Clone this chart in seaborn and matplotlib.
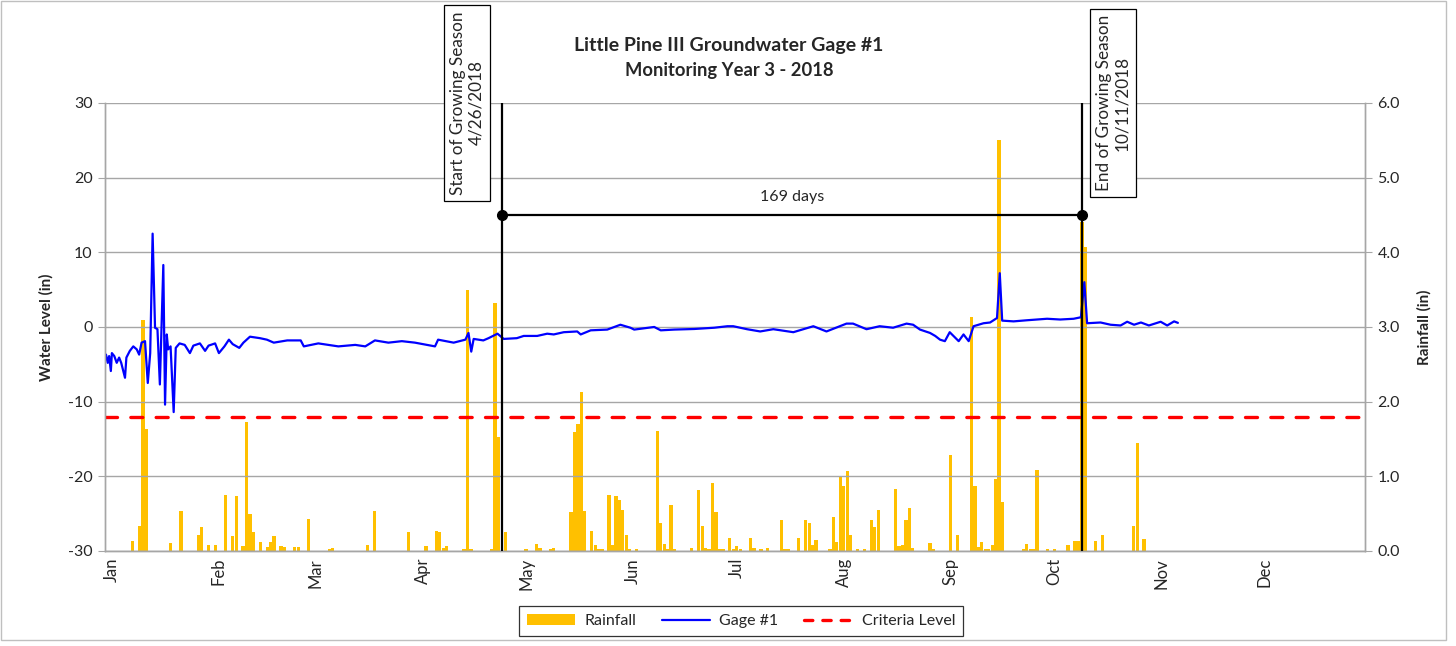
import matplotlib
matplotlib.use("Agg")
import matplotlib.pyplot as plt
from matplotlib.patches import Patch, Rectangle
from matplotlib.lines import Line2D
import numpy as np
import pandas as pd
import seaborn as sns

# x axis = day of year 2018 (0 = Jan 1)
months = ["Jan", "Feb", "Mar", "Apr", "May", "Jun", "Jul", "Aug", "Sep", "Oct", "Nov", "Dec"]
month_start_day = [0, 31, 59, 90, 120, 151, 181, 212, 243, 273, 304, 334]

# daily rainfall (in)
rain_day = [8, 10, 11, 12, 19, 22, 27, 28, 30, 32, 35, 37, 38, 40, 41, 42, 43, 45, 47, 48,
            49, 51, 52, 55, 56, 59, 65, 66, 76, 78, 88, 93, 96, 97, 98, 99, 104, 105, 106, 112,
            113, 114, 116, 122, 125, 126, 129, 130, 135, 136, 137, 138, 139, 141, 142, 143, 144, 146, 147, 148,
            149, 150, 151, 152, 154, 160, 161, 162, 163, 164, 165, 170, 172, 173, 174, 175, 176, 177, 178, 179,
            181, 182, 183, 184, 187, 188, 190, 192, 196, 197, 198, 201, 203, 204, 205, 206, 210, 211, 212, 213,
            214, 215, 216, 218, 220, 222, 223, 224, 229, 230, 231, 232, 233, 234, 239, 240, 245, 247, 251, 252,
            253, 254, 255, 256, 257, 258, 259, 260, 266, 267, 268, 269, 270, 273, 275, 279, 281, 282, 283, 284,
            287, 289, 298, 299, 301]
rain_in = [0.13, 0.33, 3.1, 1.63, 0.11, 0.53, 0.21, 0.32, 0.085, 0.076, 0.75, 0.2, 0.73, 0.06, 1.73, 0.49, 0.25, 0.125, 0.05, 0.125,
           0.2, 0.06, 0.05, 0.05, 0.05, 0.43, 0.03, 0.04, 0.085, 0.54, 0.25, 0.06, 0.27, 0.26, 0.035, 0.06, 0.03, 3.5, 0.02, 0.02,
           3.32, 1.52, 0.26, 0.02, 0.1, 0.035, 0.02, 0.045, 0.52, 1.6, 1.7, 2.13, 0.53, 0.27, 0.076, 0.02, 0.02, 0.75, 0.076, 0.74,
           0.68, 0.55, 0.21, 0.02, 0.02, 1.61, 0.37, 0.09, 0.03, 0.62, 0.02, 0.045, 0.82, 0.33, 0.045, 0.02, 0.91, 0.52, 0.02, 0.02,
           0.17, 0.02, 0.06, 0.02, 0.17, 0.035, 0.02, 0.035, 0.42, 0.03, 0.03, 0.18, 0.42, 0.38, 0.076, 0.15, 0.02, 0.46, 0.12, 1.0,
           0.875, 1.07, 0.21, 0.02, 0.03, 0.41, 0.32, 0.55, 0.83, 0.06, 0.085, 0.42, 0.57, 0.045, 0.11, 0.02, 1.29, 0.22, 3.13, 0.875,
           0.05, 0.125, 0.02, 0.02, 0.076, 0.97, 5.5, 0.65, 0.02, 0.1, 0.02, 0.02, 1.08, 0.02, 0.02, 0.085, 0.14, 0.13, 4.4, 4.07,
           0.14, 0.22, 0.33, 1.45, 0.16]

# gage #1 water level (in)
gage_day = [0.3, 0.8, 1.2, 1.7, 2.0, 2.7, 3.4, 4.1, 4.7, 5.8, 6.2, 7.2, 8.2, 9.2, 9.9, 10.6, 11.6, 12.4, 13.1, 13.8,
            14.5, 15.2, 15.9, 16.9, 17.4, 17.9, 18.3, 19.0, 19.9, 20.5, 21.6, 23.1, 24.6, 25.6, 27.5, 29.0, 30.0, 31.9, 33.0, 34.6,
            35.9, 37.0, 38.9, 40.1, 42.0, 44.9, 46.9, 48.9, 52.8, 56.7, 57.6, 61.8, 67.6, 72.5, 75.4, 78.2, 82.1, 86.0, 89.8, 95.6,
            96.5, 101.0, 104.4, 105.3, 106.1, 106.8, 109.6, 111.1, 113.7, 115.5, 119.3, 121.3, 125.2, 128.1, 130.0, 132.9, 136.8, 137.8, 140.7, 145.5,
            149.3, 152.2, 153.3, 159.1, 161.0, 164.9, 170.7, 176.5, 180.3, 182.0, 186.0, 189.8, 193.6, 199.4, 205.2, 209.0, 214.8, 216.7, 220.6, 224.4,
            228.3, 232.2, 234.1, 236.1, 239.0, 240.5, 241.9, 243.3, 244.7, 247.3, 248.7, 250.2, 251.6, 254.5, 256.4, 258.4, 259.2, 259.9, 263.2, 267.1,
            272.9, 276.7, 280.6, 282.7, 283.7, 284.5, 288.4, 291.3, 294.2, 296.1, 298.1, 300.1, 302.4, 305.8, 307.7, 309.7, 310.8]
gage_level = [-3.7, -4.8, -3.9, -5.9, -3.5, -3.9, -4.8, -4.1, -4.8, -6.8, -4.1, -3.2, -2.6, -3.0, -3.7, -2.1, -1.9, -7.5, -3.5, 12.5,
              -0.1, -0.3, -7.7, 8.3, -10.4, -1.0, -3.0, -2.6, -11.4, -2.8, -2.2, -2.4, -3.5, -2.5, -2.2, -3.2, -2.5, -2.2, -3.5, -2.6,
              -1.7, -2.3, -2.8, -2.1, -1.3, -1.5, -1.7, -2.1, -1.8, -1.8, -2.6, -2.2, -2.6, -2.4, -2.6, -1.8, -2.1, -1.9, -2.1, -2.6,
              -1.7, -2.1, -1.7, -0.8, -3.3, -1.6, -1.8, -1.5, -0.9, -1.6, -1.5, -1.2, -1.2, -0.9, -1.0, -0.7, -0.6, -1.0, -0.45, -0.35,
              0.3, -0.1, -0.35, 0.0, -0.45, -0.35, -0.27, -0.1, 0.1, 0.1, -0.3, -0.6, -0.3, -0.7, 0.1, -0.6, 0.45, 0.45, -0.3, 0.1,
              -0.1, 0.45, 0.3, -0.35, -0.8, -1.2, -1.7, -1.9, -0.7, -1.9, -1.0, -1.9, 0.1, 0.5, 0.6, 1.2, 7.2, 0.85, 0.75, 0.9,
              1.1, 1.0, 1.1, 1.3, 6.0, 0.5, 0.6, 0.3, 0.2, 0.7, 0.3, 0.6, 0.2, 0.7, 0.2, 0.75, 0.55]

criteria_level = -12
season_start_day = 115  # 4/26/2018
season_end_day = 283    # 10/11/2018

sns.set_style("white")
plt.rcParams["font.family"] = ["Lato", "DejaVu Sans"]
grid_gray = "#A6A6A6"

fig = plt.figure(figsize=(14.56, 6.46), dpi=100)
ax = fig.add_axes([0.0721, 0.1471, 0.8654, 0.6935])
ax2 = ax.twinx()
ax.set_zorder(ax2.get_zorder() + 1)
ax.patch.set_visible(False)

# rainfall bars (secondary axis)
ax2.bar(rain_day, rain_in, width=0.95, color="#FFC000", linewidth=0)
ax2.set_ylim(0, 6)
rain_ticks = np.arange(0, 6.01, 1.0)
ax2.set_yticks(rain_ticks)
ax2.set_yticklabels([f"{t:.1f}" for t in rain_ticks], fontsize=11.5)
ax2.set_ylabel("Rainfall (in)", fontsize=11, fontweight="bold", labelpad=12)

# gage line + criteria
gage = pd.DataFrame({"day": gage_day, "level": gage_level})
sns.lineplot(data=gage, x="day", y="level", ax=ax, color="#0000FF", linewidth=1.6, legend=False)
ax.axhline(criteria_level, color="#FF0000", linewidth=2.4, dashes=(3.6, 4.0), dash_capstyle="round")

ax.set_xlim(0, 365)
ax.set_ylim(-30, 30)
ax.set_yticks(range(-30, 31, 10))
ax.set_yticklabels([str(t) for t in range(-30, 31, 10)], fontsize=11.5)
ax.set_ylabel("Water Level (in)", fontsize=11, fontweight="bold", labelpad=10)
ax.set_xlabel("")

# tick marks at month starts, labels sit slightly right of the marks
ax.set_xticks(month_start_day)
ax.set_xticklabels([])
ax.set_xticks([d + 2 for d in month_start_day], minor=True)
ax.set_xticklabels(months, minor=True, rotation=90, fontsize=12)
ax.tick_params(axis="x", which="major", direction="inout", length=8, color=grid_gray)
ax.tick_params(axis="x", which="minor", length=0, pad=5)

ax.yaxis.grid(True, color=grid_gray, linewidth=1)
ax.set_axisbelow(True)

for a in (ax, ax2):
    a.spines["top"].set_visible(False)
    for s in ("left", "right", "bottom"):
        a.spines[s].set_color(grid_gray)
        a.spines[s].set_linewidth(1)
ax.tick_params(axis="y", direction="out", length=5, color=grid_gray, pad=4)
ax2.tick_params(axis="y", direction="out", length=5, color=grid_gray, pad=4)

# growing season markers
for d in (season_start_day, season_end_day):
    ax.axvline(d, color="black", linewidth=1.6, zorder=5)
ax.plot([season_start_day, season_end_day], [15, 15], color="black", linewidth=1.6,
        marker="o", markersize=7, zorder=6)
ax.text((season_start_day + season_end_day) / 2, 17.4,
        f"{season_end_day - season_start_day + 1} days", ha="center", va="center", fontsize=11.5)

box = dict(boxstyle="square,pad=0.35", facecolor="white", edgecolor="black", linewidth=0.9)
ax.text(104.9, 30, "Start of Growing Season\n4/26/2018", rotation=90, ha="center", va="center",
        multialignment="center", fontsize=12.3, bbox=box, clip_on=False, zorder=7)
ax.text(292.0, 30, "End of Growing Season\n10/11/2018", rotation=90, ha="center", va="center",
        multialignment="center", fontsize=12.3, bbox=box, clip_on=False, zorder=7)

fig.text(0.5007, 0.929, "Little Pine III Groundwater Gage #1", ha="center", va="center",
         fontsize=14, fontweight="bold")
fig.text(0.5007, 0.891, "Monitoring Year 3 - 2018", ha="center", va="center",
         fontsize=13.2, fontweight="bold")

handles = [
    Patch(facecolor="#FFC000", edgecolor="none", label="Rainfall"),
    Line2D([0], [0], color="#0000FF", linewidth=1.6, label="Gage #1"),
    Line2D([0], [0], color="#FF0000", linewidth=2.4, dashes=(2.5, 3.0), dash_capstyle="round",
           label="Criteria Level"),
]
leg = fig.legend(handles=handles, loc="center", bbox_to_anchor=(741 / 1456, 1 - 621 / 646), ncol=3,
                 frameon=True, fancybox=False, fontsize=11.5, handlelength=3.0, columnspacing=1.6,
                 handletextpad=0.6, borderpad=0.5)
leg.get_frame().set_edgecolor("black")
leg.get_frame().set_linewidth(0.9)

# outer chart border
fig.patches.append(Rectangle((0.001, 0.009), 0.992, 0.989, transform=fig.transFigure,
                             fill=False, edgecolor="#BFBFBF", linewidth=1))

fig.savefig("out.png", dpi=100)
plt.close(fig)
